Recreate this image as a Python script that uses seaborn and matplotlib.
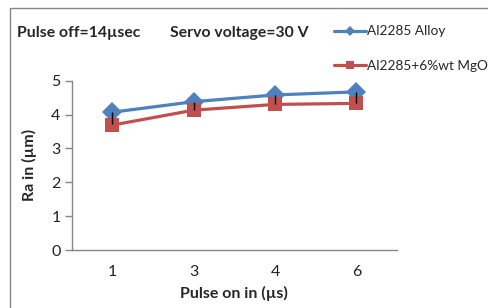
import pandas as pd
import matplotlib
matplotlib.use("Agg")
import matplotlib.pyplot as plt
import seaborn as sns
from matplotlib.patches import Rectangle

# data
pulse_on = ["1", "3", "4", "6"]
alloy = [4.07, 4.38, 4.58, 4.67]
composite = [3.69, 4.13, 4.30, 4.33]
alloy_err_down = [0.35, 0.25, 0.27, 0.34]

series_names = ["Al2285 Alloy", "Al2285+6%wt MgO"]

df = pd.DataFrame({
    "Pulse on": pulse_on * 2,
    "Ra": alloy + composite,
    "Series": [series_names[0]] * 4 + [series_names[1]] * 4,
})

sns.set_theme(style="white")
plt.rcParams['font.family'] = ['Lato', 'DejaVu Sans']

fig = plt.figure(figsize=(4.88, 3.08), dpi=100)
ax = fig.add_axes([0.147, 0.188, 0.6665, 0.550])

palette = {series_names[0]: "#4F81BD", series_names[1]: "#C0504D"}
sns.lineplot(data=df, x="Pulse on", y="Ra", hue="Series", style="Series",
             markers={series_names[0]: "D", series_names[1]: "s"},
             dashes=False, palette=palette, linewidth=2.3,
             markersize=9, markeredgewidth=0, ax=ax, legend=False, sort=False)
# diamond a touch larger, like the original
ax.lines[0].set_markersize(10)
ax.lines[1].set_markersize(9.5)

# black error bars hanging below the alloy points
xs = range(len(pulse_on))
ax.errorbar(list(xs), alloy, yerr=[alloy_err_down, [0] * 4], fmt="none",
            ecolor="black", elinewidth=1, capsize=0)

ax.set_xlim(-0.5, 3.5)
ax.set_ylim(0, 5)
ax.set_yticks([0, 1, 2, 3, 4, 5])
ax.tick_params(axis="y", length=5, width=1, color="#868686", direction="out",
               labelsize=11.5, labelcolor="#222222", pad=3, left=True)
ax.tick_params(axis="x", length=0, labelsize=11.5, labelcolor="#222222", pad=11)
for side in ["top", "right"]:
    ax.spines[side].set_visible(False)
for side in ["left", "bottom"]:
    ax.spines[side].set_color("#868686")
    ax.spines[side].set_linewidth(1)

ax.set_xlabel("Pulse on in (µs)", fontsize=11.5, fontweight="bold", labelpad=5)
ax.set_ylabel("Ra in (µm)", fontsize=11.5, fontweight="bold", labelpad=10)

fig.text(0.035, 0.893, "Pulse off=14µsec", fontsize=11.3, fontweight="bold",
         va="center", ha="left")
fig.text(0.348, 0.893, "Servo voltage=30 V", fontsize=11.3, fontweight="bold",
         va="center", ha="left")

handles = [
    plt.Line2D([], [], color="#4F81BD", lw=2.3, marker="D", markersize=5, markeredgewidth=0),
    plt.Line2D([], [], color="#C0504D", lw=2.3, marker="s", markersize=6, markeredgewidth=0),
]
fig.legend(handles, series_names, loc="upper left", bbox_to_anchor=(0.674, 0.935),
           frameon=False, fontsize=9.8, handlelength=2.3, handletextpad=0.1,
           labelspacing=1.62, borderaxespad=0)

fig.patches.append(Rectangle((10 / 488, -0.1), 1.2, 0.974 + 0.1, transform=fig.transFigure,
                             fill=False, edgecolor="#868686", linewidth=1))

fig.savefig("out.png", dpi=100)
